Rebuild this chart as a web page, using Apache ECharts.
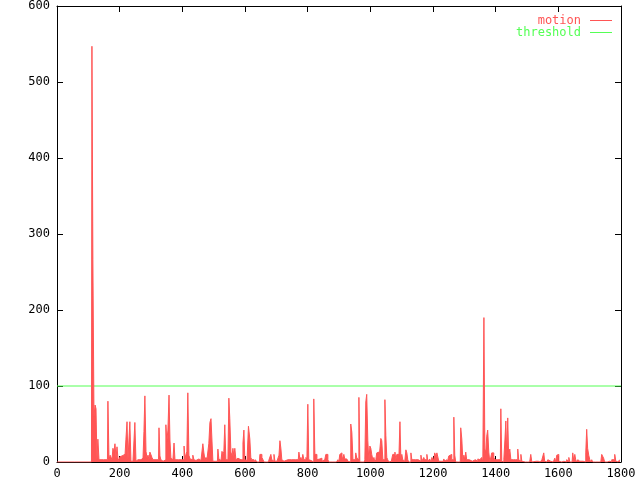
<!DOCTYPE html>
<html>
<head>
<meta charset="utf-8">
<script src="https://cdn.jsdelivr.net/npm/echarts@6/dist/echarts.min.js"></script>
<style>html,body{margin:0;padding:0;background:#fff}#c{width:640px;height:480px}</style>
</head>
<body>
<div id="c"></div>
<script>
const xTicks = [0, 200, 400, 600, 800, 1000, 1200, 1400, 1600, 1800];
const yTicks = [0, 100, 200, 300, 400, 500, 600];
const thresholdValue = 100;
const seriesNames = ['motion', 'threshold'];

const frames = [0,110,113,116,120,123,126,129,132,136,161,164,168,171,174,177,180,183,187,190,193,196,199,203,206,209,212,215,218,222,225,228,231,234,238,247,250,254,257,260,263,266,270,273,276,279,282,286,289,292,295,298,301,305,308,324,327,330,333,337,340,343,346,349,352,356,359,362,365,368,372,375,378,397,400,404,407,410,413,416,419,423,426,429,432,435,439,442,445,448,451,455,458,461,464,467,470,474,477,480,483,486,490,493,496,499,512,515,518,522,525,528,531,534,537,541,544,547,550,553,557,560,563,566,569,573,576,579,582,585,589,592,595,598,601,605,608,614,617,620,624,627,630,636,640,646,649,652,656,659,662,675,678,681,684,687,691,694,697,707,710,713,716,719,723,726,748,751,754,770,774,777,780,783,786,790,793,796,799,802,805,809,812,815,818,821,825,828,831,834,837,841,844,847,850,853,856,860,863,866,869,892,895,898,901,904,908,911,914,917,920,923,927,930,933,936,939,943,946,952,955,959,962,965,968,981,984,987,990,994,997,1000,1003,1006,1010,1013,1016,1019,1022,1026,1029,1032,1035,1038,1042,1045,1048,1051,1054,1057,1061,1067,1070,1073,1077,1080,1083,1086,1089,1093,1096,1099,1102,1105,1108,1112,1115,1118,1121,1124,1128,1131,1134,1153,1156,1160,1163,1166,1169,1172,1175,1179,1182,1185,1188,1191,1195,1198,1201,1204,1207,1211,1214,1217,1220,1233,1236,1239,1242,1246,1249,1252,1255,1258,1262,1265,1268,1271,1274,1287,1290,1294,1297,1300,1303,1306,1309,1316,1319,1322,1329,1332,1338,1341,1345,1348,1351,1354,1357,1361,1364,1367,1370,1373,1376,1380,1383,1386,1389,1392,1396,1399,1415,1418,1421,1424,1428,1431,1434,1437,1440,1443,1447,1450,1463,1466,1469,1472,1475,1479,1482,1485,1488,1501,1504,1507,1510,1514,1517,1520,1523,1536,1539,1546,1549,1552,1555,1558,1561,1565,1568,1571,1574,1577,1581,1587,1590,1593,1597,1600,1603,1606,1609,1613,1622,1625,1628,1632,1635,1638,1644,1648,1651,1654,1657,1660,1664,1667,1670,1679,1683,1686,1689,1692,1695,1699,1702,1705,1708,1711,1727,1731,1734,1737,1740,1743,1746,1750,1762,1766,1769,1772,1775,1778,1782,1785,1788,1794,1797];
const motion = [0,0,547,266,60,75,70,3,30,3,3,80,3,9,8,3,18,13,24,5,20,5,2,7,8,10,7,10,5,30,53,3,2,53,1,1,52,1,3,2,4,3,3,5,3,40,87,14,5,9,3,13,10,6,3,3,45,8,3,1,3,1,3,49,27,42,88,29,5,3,3,25,3,3,5,3,21,5,3,14,91,9,4,3,3,9,3,2,3,2,4,3,2,4,3,24,13,3,6,3,3,24,52,57,59,1,1,17,4,2,1,14,10,14,49,3,3,3,84,57,13,8,18,7,18,3,5,3,3,3,3,3,25,42,3,2,3,47,30,6,3,3,0,3,0,0,10,10,6,3,0,0,3,5,10,3,1,10,1,1,9,28,18,3,1,3,3,4,3,3,13,3,6,1,10,3,3,6,3,76,3,2,1,0,0,83,10,10,3,3,4,3,5,1,2,3,3,10,10,3,0,0,2,3,0,10,12,3,3,10,4,4,4,1,0,0,50,39,3,3,12,5,3,85,0,0,3,79,89,28,0,21,18,10,3,6,0,3,12,13,3,3,31,28,3,3,82,35,6,3,0,1,3,10,10,13,3,10,10,4,53,3,10,3,1,3,16,12,3,0,0,12,3,3,4,1,9,1,2,6,3,3,10,1,2,4,0,6,8,3,12,8,12,10,1,1,4,1,3,0,3,8,10,10,3,3,59,9,0,0,45,30,0,9,3,13,3,3,1,1,0,3,3,1,4,3,1,4,6,0,190,17,13,34,42,13,0,0,12,12,6,3,3,70,1,0,3,29,54,8,58,7,17,3,3,1,3,17,3,1,10,1,0,0,1,0,0,10,0,0,1,1,0,1,3,3,12,1,0,1,3,4,1,1,0,0,5,0,9,10,1,0,0,1,1,0,3,1,6,0,0,12,1,10,3,0,3,1,0,1,0,0,12,43,18,9,3,0,3,0,0,1,0,0,10,10,5,0,0,1,0,3,1,3,10,1,0,1,3];

const motionData = frames.map((f, i) => [f, motion[i]]);
const thresholdData = [[xTicks[0], thresholdValue], [xTicks[xTicks.length - 1], thresholdValue]];

const RED = '#ff5555';
const GREEN = '#55ff55';
const FONT = 'DejaVu Sans Mono';
const chart = echarts.init(document.getElementById('c'), null, {renderer: 'canvas'});
const axisCommon = {
  type: 'value',
  splitLine: {show: false},
  axisLine: {show: true, onZero: false, lineStyle: {color: '#000', width: 1}},
  axisTick: {show: true, inside: true, length: 6, lineStyle: {color: '#000'}}
};
const plain = v => String(v);
chart.setOption({
  animation: false,
  backgroundColor: '#fff',
  grid: {left: 57, right: 19, top: 6, bottom: 18, containLabel: false},
  legend: {
    orient: 'vertical', right: 28, top: 14.5, align: 'right', padding: 0,
    icon: 'rect', itemWidth: 22, itemHeight: 1, itemGap: 0,
    textStyle: {fontFamily: FONT, fontSize: 12, lineHeight: 12, padding: [0, 4, 0, 0]},
    data: [
      {name: seriesNames[0], textStyle: {color: RED}, itemStyle: {color: RED, borderWidth: 0}},
      {name: seriesNames[1], textStyle: {color: GREEN}, itemStyle: {color: GREEN, borderWidth: 0}}
    ]
  },
  xAxis: [
    Object.assign({}, axisCommon, {
      position: 'bottom', min: xTicks[0], max: xTicks[xTicks.length - 1], interval: 200,
      axisLabel: {color: '#000', fontFamily: FONT, fontSize: 12, margin: 6, formatter: plain}
    }),
    Object.assign({}, axisCommon, {
      position: 'top', min: xTicks[0], max: xTicks[xTicks.length - 1], interval: 200,
      axisLabel: {show: false}
    })
  ],
  yAxis: [
    Object.assign({}, axisCommon, {
      position: 'left', min: yTicks[0], max: yTicks[yTicks.length - 1], interval: 100,
      axisLabel: {color: '#000', fontFamily: FONT, fontSize: 12, margin: 7, formatter: plain}
    }),
    Object.assign({}, axisCommon, {
      position: 'right', min: yTicks[0], max: yTicks[yTicks.length - 1], interval: 100,
      axisLabel: {show: false}
    })
  ],
  series: [
    {
      name: seriesNames[0], type: 'line', data: motionData, symbol: 'none', showSymbol: false,
      step: 'middle', xAxisIndex: 0, yAxisIndex: 0, z: 4,
      lineStyle: {color: RED, width: 1}, itemStyle: {color: RED},
      areaStyle: {color: RED, opacity: 1, origin: 'start'}
    },
    {
      name: seriesNames[1], type: 'line', data: thresholdData, symbol: 'none', showSymbol: false,
      xAxisIndex: 0, yAxisIndex: 0, z: 3,
      lineStyle: {color: GREEN, width: 1}, itemStyle: {color: GREEN}
    }
  ]
});
</script>
</body>
</html>
